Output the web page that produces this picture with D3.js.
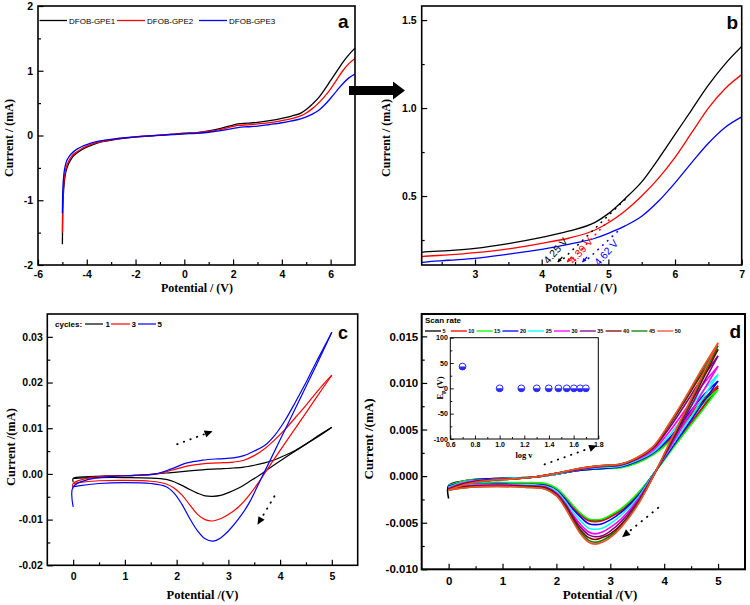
<!DOCTYPE html>
<html><head><meta charset="utf-8">
<script src="https://cdn.jsdelivr.net/npm/d3@7"></script>
<style>body{margin:0;background:#fff}svg{display:block}</style>
</head><body>
<svg id="chart" width="750" height="605"></svg>
<script>
// ---------- Panel a / b : LSV ----------
const lsvPotential = [-5, -4.99, -4.97, -4.94, -4.9, -4.85, -4.75, -4.6, -4.4, -4.2, -4, -3.6, -3.2, -2.8, -2.4, -2, -1.5, -1, -0.5, 0, 0.5, 1, 1.5, 2, 2.2, 2.6, 3, 3.5, 4, 4.4, 4.8, 5, 5.25, 5.5, 5.75, 6, 6.25, 6.5, 6.75, 7];
const lsvGPE1 = [-1.68, -1.3, -1.0, -0.8, -0.65, -0.55, -0.44, -0.34, -0.27, -0.22, -0.18, -0.12, -0.085, -0.06, -0.04, -0.025, -0.01, 0.005, 0.02, 0.035, 0.045, 0.07, 0.11, 0.16, 0.18, 0.19, 0.203, 0.23, 0.265, 0.3, 0.35, 0.40, 0.485, 0.58, 0.71, 0.85, 0.99, 1.13, 1.25, 1.35];
const lsvGPE2 = [-1.5, -1.15, -0.9, -0.72, -0.6, -0.5, -0.4, -0.31, -0.25, -0.2, -0.165, -0.11, -0.078, -0.055, -0.037, -0.022, -0.008, 0.005, 0.018, 0.03, 0.04, 0.062, 0.095, 0.14, 0.155, 0.165, 0.178, 0.2, 0.231, 0.26, 0.307, 0.348, 0.415, 0.50, 0.60, 0.72, 0.86, 1.0, 1.11, 1.19];
const lsvGPE3 = [-1.2, -0.95, -0.75, -0.6, -0.5, -0.42, -0.34, -0.27, -0.21, -0.17, -0.14, -0.095, -0.068, -0.048, -0.033, -0.02, -0.008, 0.003, 0.013, 0.025, 0.032, 0.05, 0.075, 0.11, 0.123, 0.135, 0.146, 0.17, 0.197, 0.225, 0.26, 0.288, 0.33, 0.385, 0.47, 0.575, 0.69, 0.80, 0.89, 0.95];
const lsvNames = ["DFOB-GPE1", "DFOB-GPE2", "DFOB-GPE3"];
const onsetValues = [4.25, 4.39, 4.62];

// ---------- Panel c : CV cycles ----------
const cycleFwdX = [0, 0, 0.3, 0.7, 1.2, 1.6, 1.9, 2.2, 2.5, 2.8, 3.1, 3.3, 3.5, 3.7, 3.9, 4.1, 4.3, 4.5, 4.7, 4.9, 5];
const cycleRevX = [5, 4.7, 4.4, 4.1, 3.8, 3.6, 3.4, 3.2, 3.0, 2.85, 2.7, 2.55, 2.4, 2.25, 2.1, 1.95, 1.8, 1.5, 1.0, 0.5, 0.1, 0];
const cycle1Fwd = [-0.0018, -0.0010, -0.0006, -0.0004, -0.0003, 0.0000, 0.0003, 0.0006, 0.0009, 0.0011, 0.0013, 0.0015, 0.0019, 0.0024, 0.0031, 0.0041, 0.0052, 0.0065, 0.0079, 0.0094, 0.0102];
const cycle1Rev = [0.0102, 0.0081, 0.0058, 0.0036, 0.0013, -0.0003, -0.0017, -0.0031, -0.0041, -0.0047, -0.0049, -0.0048, -0.0042, -0.0034, -0.0025, -0.0017, -0.0012, -0.0009, -0.0008, -0.0008, -0.0009, -0.0010];
const cycle3Fwd = [-0.0032, -0.0021, -0.0009, -0.0005, -0.0003, 0.0000, 0.0008, 0.0017, 0.0022, 0.0024, 0.0026, 0.0030, 0.0040, 0.0055, 0.0075, 0.0098, 0.0124, 0.0150, 0.0178, 0.0204, 0.0216];
const cycle3Rev = [0.0216, 0.0167, 0.0117, 0.0068, 0.0018, -0.0016, -0.0047, -0.0072, -0.0089, -0.0098, -0.0103, -0.0100, -0.0088, -0.0067, -0.0046, -0.0031, -0.0022, -0.0016, -0.0014, -0.0015, -0.0019, -0.0021];
const cycle5Fwd = [-0.0072, -0.0028, -0.0012, -0.0006, -0.0003, 0.0000, 0.0011, 0.0024, 0.0030, 0.0033, 0.0035, 0.0040, 0.0050, 0.0062, 0.0085, 0.0118, 0.0158, 0.0200, 0.0245, 0.0288, 0.0310];
const cycle5Rev = [0.0310, 0.0238, 0.0168, 0.0098, 0.0028, -0.0018, -0.0064, -0.0098, -0.0125, -0.0140, -0.0147, -0.0142, -0.0124, -0.0097, -0.0066, -0.0042, -0.0028, -0.0021, -0.0019, -0.0021, -0.0026, -0.0028];
const cycleLabels = ["1", "3", "5"];

// ---------- Panel d : scan rates ----------
const rateFwdX = [0, 0, 0.3, 0.7, 1.2, 1.6, 2.0, 2.4, 2.8, 3.2, 3.5, 3.8, 4.1, 4.4, 4.7, 5];
const rateRevX = [5, 4.7, 4.4, 4.1, 3.8, 3.5, 3.2, 3.0, 2.85, 2.72, 2.6, 2.45, 2.3, 2.15, 2.0, 1.8, 1.4, 0.9, 0.4, 0];
const scanRates = [5, 10, 15, 20, 25, 30, 35, 40, 45, 50];
const rate5Fwd  = [-0.0024, -0.0010, -0.0005, -0.0003, -0.0002, -0.0001, 0.0002, 0.0006, 0.0008, 0.0010, 0.0015, 0.0024, 0.0038, 0.0059, 0.0079, 0.0095];
const rate10Fwd = [-0.0011, -0.0011, -0.0005, -0.0003, -0.0002, -0.0001, 0.0002, 0.0006, 0.0008, 0.0010, 0.0015, 0.0025, 0.0039, 0.0060, 0.0081, 0.0097];
const rate15Fwd = [-0.0010, -0.0010, -0.0005, -0.0003, -0.0002, -0.0001, 0.0002, 0.0006, 0.0008, 0.0009, 0.0014, 0.0023, 0.0037, 0.0057, 0.0077, 0.0093];
const rate20Fwd = [-0.0011, -0.0011, -0.0006, -0.0003, -0.0002, -0.0001, 0.0002, 0.0006, 0.0008, 0.0010, 0.0016, 0.0025, 0.0041, 0.0063, 0.0085, 0.0102];
const rate25Fwd = [-0.0012, -0.0012, -0.0006, -0.0004, -0.0002, -0.0001, 0.0002, 0.0007, 0.0009, 0.0011, 0.0017, 0.0026, 0.0044, 0.0067, 0.0090, 0.0109];
const rate30Fwd = [-0.0013, -0.0013, -0.0007, -0.0004, -0.0003, -0.0001, 0.0003, 0.0007, 0.0010, 0.0012, 0.0018, 0.0028, 0.0048, 0.0072, 0.0097, 0.0118];
const rate35Fwd = [-0.0014, -0.0014, -0.0008, -0.0004, -0.0003, -0.0001, 0.0003, 0.0007, 0.0010, 0.0012, 0.0019, 0.0030, 0.0052, 0.0078, 0.0105, 0.0129];
const rate40Fwd = [-0.0014, -0.0014, -0.0008, -0.0005, -0.0003, -0.0001, 0.0003, 0.0008, 0.0011, 0.0013, 0.0019, 0.0031, 0.0055, 0.0082, 0.0110, 0.0136];
const rate45Fwd = [-0.0015, -0.0015, -0.0009, -0.0005, -0.0003, -0.0001, 0.0003, 0.0008, 0.0011, 0.0013, 0.0020, 0.0032, 0.0056, 0.0084, 0.0113, 0.0140];
const rate50Fwd = [-0.0015, -0.0015, -0.0009, -0.0005, -0.0003, -0.0001, 0.0003, 0.0008, 0.0011, 0.0013, 0.0020, 0.0032, 0.0057, 0.0085, 0.0115, 0.0143];
const rate5Rev  = [0.0095, 0.0072, 0.0049, 0.0026, 0.0002, -0.0020, -0.0036, -0.0043, -0.0047, -0.0048, -0.0047, -0.0041, -0.0032, -0.0022, -0.0014, -0.0009, -0.0008, -0.0007, -0.0008, -0.0010];
const rate10Rev = [0.0097, 0.0073, 0.0050, 0.0026, 0.0002, -0.0021, -0.0037, -0.0044, -0.0048, -0.0049, -0.0048, -0.0042, -0.0033, -0.0022, -0.0014, -0.0009, -0.0008, -0.0008, -0.0008, -0.0011];
const rate15Rev = [0.0093, 0.0070, 0.0048, 0.0025, 0.0002, -0.0019, -0.0035, -0.0042, -0.0046, -0.0047, -0.0046, -0.0040, -0.0031, -0.0021, -0.0013, -0.0008, -0.0007, -0.0007, -0.0007, -0.0010];
const rate20Rev = [0.0102, 0.0077, 0.0052, 0.0027, 0.0002, -0.0022, -0.0039, -0.0047, -0.0051, -0.0052, -0.0051, -0.0044, -0.0035, -0.0024, -0.0015, -0.0010, -0.0009, -0.0008, -0.0009, -0.0011];
const rate25Rev = [0.0109, 0.0082, 0.0055, 0.0029, 0.0002, -0.0024, -0.0042, -0.0051, -0.0056, -0.0057, -0.0056, -0.0048, -0.0038, -0.0026, -0.0016, -0.0011, -0.0009, -0.0009, -0.0009, -0.0012];
const rate30Rev = [0.0118, 0.0089, 0.0059, 0.0030, 0.0001, -0.0026, -0.0046, -0.0055, -0.0060, -0.0062, -0.0060, -0.0052, -0.0041, -0.0028, -0.0018, -0.0012, -0.0010, -0.0009, -0.0010, -0.0013];
const rate35Rev = [0.0129, 0.0097, 0.0064, 0.0032, 0.0001, -0.0028, -0.0049, -0.0059, -0.0064, -0.0065, -0.0063, -0.0055, -0.0043, -0.0029, -0.0019, -0.0012, -0.0011, -0.0010, -0.0011, -0.0014];
const rate40Rev = [0.0136, 0.0102, 0.0068, 0.0034, 0.0000, -0.0030, -0.0052, -0.0062, -0.0066, -0.0068, -0.0066, -0.0058, -0.0045, -0.0031, -0.0020, -0.0013, -0.0011, -0.0010, -0.0011, -0.0014];
const rate45Rev = [0.0140, 0.0105, 0.0070, 0.0035, 0.0000, -0.0031, -0.0054, -0.0064, -0.0069, -0.0071, -0.0069, -0.0060, -0.0047, -0.0032, -0.0021, -0.0014, -0.0012, -0.0011, -0.0012, -0.0015];
const rate50Rev = [0.0143, 0.0107, 0.0071, 0.0036, 0.0000, -0.0032, -0.0055, -0.0066, -0.0071, -0.0073, -0.0071, -0.0062, -0.0048, -0.0033, -0.0021, -0.0014, -0.0012, -0.0011, -0.0012, -0.0015];
// inset
const insetLogV = [0.699, 1.0, 1.176, 1.301, 1.398, 1.477, 1.544, 1.602, 1.653, 1.699];
const insetEp = [43, 0, 0, 0, 0, 0, 0, 0, 0, 0];

// ---------- drawing ----------
const SANS = "'Liberation Sans', Arial, sans-serif";
const SERIF = "'Liberation Serif', 'Times New Roman', serif";
const fixMinus = s => String(s).replace(/\u2212/g, '-');
const svg = d3.select('#chart');
svg.append('rect').attr('width', 750).attr('height', 605).attr('fill', '#fff');
const defs = svg.append('defs');
defs.append('marker').attr('id', 'ah').attr('viewBox', '0 0 10 10').attr('refX', 9).attr('refY', 5)
  .attr('markerWidth', 10).attr('markerHeight', 8).attr('markerUnits', 'userSpaceOnUse').attr('orient', 'auto')
  .append('path').attr('d', 'M0,0.5 L10,5 L0,9.5 Z').attr('fill', '#000');
['#000', '#f00', '#00f'].forEach((c, i) => {
  defs.append('marker').attr('id', 'sm' + i).attr('viewBox', '0 0 10 10').attr('refX', 9).attr('refY', 5)
    .attr('markerWidth', 5).attr('markerHeight', 4).attr('markerUnits', 'userSpaceOnUse').attr('orient', 'auto')
    .append('path').attr('d', 'M0,0 L10,5 L0,10 Z').attr('fill', c);
});

let clipN = 0;
function styleAxis(sel, fs) {
  sel.select('.domain').remove();
  sel.selectAll('line').attr('stroke', '#000').attr('stroke-width', 1.2);
  sel.selectAll('text').attr('font-family', SANS).attr('font-weight', 'bold').attr('font-size', fs).attr('fill', '#000');
}
function makePanel(o) {
  const g = svg.append('g');
  const x = d3.scaleLinear().domain(o.xd).range([o.l, o.r]);
  const y = d3.scaleLinear().domain(o.yd).range([o.b, o.t]);
  const id = 'clip' + (clipN++);
  defs.append('clipPath').attr('id', id).append('rect')
    .attr('x', o.l).attr('y', o.t).attr('width', o.r - o.l).attr('height', o.b - o.t);
  const plot = g.append('g').attr('clip-path', `url(#${id})`);
  const ax = g.append('g');
  ax.append('g').attr('transform', `translate(0,${o.b})`)
    .call(d3.axisBottom(x).tickValues(o.xMinor).tickSize(-3).tickFormat(''))
    .call(s => styleAxis(s, o.fs));
  ax.append('g').attr('transform', `translate(0,${o.b})`)
    .call(d3.axisBottom(x).tickValues(o.xMajor).tickSize(-5.5).tickPadding(o.xpad).tickFormat(d => fixMinus(o.xf(d))))
    .call(s => styleAxis(s, o.fs));
  ax.append('g').attr('transform', `translate(${o.l},0)`)
    .call(d3.axisLeft(y).tickValues(o.yMinor).tickSize(-3).tickFormat(''))
    .call(s => styleAxis(s, o.fs));
  ax.append('g').attr('transform', `translate(${o.l},0)`)
    .call(d3.axisLeft(y).tickValues(o.yMajor).tickSize(-5.5).tickPadding(o.ypad).tickFormat(d => fixMinus(o.yf(d))))
    .call(s => styleAxis(s, o.fs));
  g.append('rect').attr('x', o.l).attr('y', o.t).attr('width', o.r - o.l).attr('height', o.b - o.t)
    .attr('fill', 'none').attr('stroke', '#000').attr('stroke-width', o.fw || 1.6);
  g.append('text').attr('x', o.xtx).attr('y', o.xty).attr('text-anchor', 'middle')
    .attr('font-family', SERIF).attr('font-weight', 'bold').attr('font-size', o.tfs).text(o.xt);
  g.append('text').attr('transform', `translate(${o.ytx},${o.yty}) rotate(-90)`).attr('text-anchor', 'middle')
    .attr('font-family', SERIF).attr('font-weight', 'bold').attr('font-size', o.tfs).text(o.yt);
  g.append('text').attr('x', o.lx).attr('y', o.ly).attr('font-family', SANS).attr('font-weight', 'bold')
    .attr('font-size', o.lfs).text(o.letter);
  return { g, plot, x, y };
}
const fmtInt = d => String(d);

// Panel a
const A = makePanel({ l: 38, r: 355, t: 6, b: 265, xd: [-6, 7], yd: [-2, 2],
  xMajor: [-6, -4, -2, 0, 2, 4, 6], xMinor: [-5, -3, -1, 1, 3, 5],
  yMajor: [-2, -1, 0, 1, 2], yMinor: [-1.5, -0.5, 0.5, 1.5],
  xf: fmtInt, yf: fmtInt, fs: 10.5, xpad: 6, ypad: 5,
  xt: 'Potential / (V)', xtx: 197, xty: 291.5, yt: 'Current / (mA)', ytx: 13, yty: 138, tfs: 12,
  letter: 'a', lx: 338, ly: 28, lfs: 19 });
// Panel b
const B = makePanel({ l: 421.7, r: 741.7, t: 6, b: 265, xd: [2.2, 7], yd: [0.108, 1.58],
  xMajor: [3, 4, 5, 6, 7], xMinor: [2.5, 3.5, 4.5, 5.5, 6.5],
  yMajor: [0.5, 1.0, 1.5], yMinor: [0.25, 0.75, 1.25],
  xf: fmtInt, yf: d3.format('.1f'), fs: 10.5, xpad: 6, ypad: 5,
  xt: 'Potential / (V)', xtx: 581, xty: 291.5, yt: 'Current / (mA)', ytx: 390, yty: 138, tfs: 12,
  letter: 'b', lx: 726.5, ly: 29, lfs: 19 });
// Panel c
const C = makePanel({ l: 47.3, r: 357.7, t: 314, b: 565.3, xd: [-0.5, 5.5], yd: [-0.02, 0.035],
  xMajor: [0, 1, 2, 3, 4, 5], xMinor: [0.5, 1.5, 2.5, 3.5, 4.5],
  yMajor: [-0.02, -0.01, 0, 0.01, 0.02, 0.03], yMinor: [-0.015, -0.005, 0.005, 0.015, 0.025],
  xf: fmtInt, yf: d3.format('.2f'), fs: 10.5, xpad: 7, ypad: 4.5,
  xt: 'Potential /(V)', xtx: 202.5, xty: 599, yt: 'Current /(mA)', ytx: 14.5, yty: 447, tfs: 12.5,
  letter: 'c', lx: 338, ly: 339, lfs: 18 });
// Panel d
const D = makePanel({ l: 421.7, r: 745, t: 314, b: 569.3, xd: [-0.5, 5.5], yd: [-0.01, 0.0174],
  xMajor: [0, 1, 2, 3, 4, 5], xMinor: [0.5, 1.5, 2.5, 3.5, 4.5],
  yMajor: [-0.01, -0.005, 0, 0.005, 0.01, 0.015], yMinor: [-0.0075, -0.0025, 0.0025, 0.0075, 0.0125],
  xf: fmtInt, yf: d3.format('.3f'), fs: 11.5, xpad: 8, ypad: 3.5, fw: 2,
  xt: 'Potential /(V)', xtx: 600, xty: 599, yt: 'Current /(mA)', ytx: 373, yty: 439, tfs: 13,
  letter: 'd', lx: 729.5, ly: 338, lfs: 19 });

const lsvColors = ['#000000', '#ff0000', '#0000ff'];
const lsvSeries = [lsvGPE1, lsvGPE2, lsvGPE3];
function drawLsv(P, xmin) {
  const line = d3.line().x(d => P.x(d[0])).y(d => P.y(d[1])).curve(d3.curveMonotoneX);
  lsvSeries.forEach((s, i) => {
    const pts = lsvPotential.map((v, k) => [v, s[k]]).filter(d => d[0] >= xmin);
    P.plot.append('path').attr('d', line(pts)).attr('fill', 'none')
      .attr('stroke', lsvColors[i]).attr('stroke-width', 1.3);
  });
}
drawLsv(A, -99);
drawLsv(B, 2.0);

// legend a
const legA = A.g.append('g');
const legAX = [[39.5, 67, 69], [117, 145, 147], [199, 227, 229]];
lsvNames.forEach((n, i) => {
  legA.append('line').attr('x1', legAX[i][0]).attr('x2', legAX[i][1]).attr('y1', 20.5).attr('y2', 20.5)
    .attr('stroke', lsvColors[i]).attr('stroke-width', 1.3);
  legA.append('text').attr('x', legAX[i][2]).attr('y', 23.5).attr('font-family', SANS)
    .attr('font-size', 8).text(n);
});

// big arrow a -> b
svg.append('path').attr('d', 'M349,86 L393,86 L393,81.5 L405,90.5 L393,99.5 L393,95 L349,95 Z').attr('fill', '#000');

// panel b annotations: tangent dotted lines and onset labels
const tanEnds = [[5.25, 0.48], [5.05, 0.38], [5.2, 0.32]];
const labelDx = [-10, 6, 16];
onsetValues.forEach((v, i) => {
  B.g.append('line').attr('x1', B.x(v + 0.08)).attr('y1', B.y(0.145)).attr('x2', B.x(tanEnds[i][0])).attr('y2', B.y(tanEnds[i][1]))
    .attr('stroke', lsvColors[i]).attr('stroke-width', 1.6).attr('stroke-dasharray', '0.5,6').attr('stroke-linecap', 'round');
  const ax0 = B.x(v);
  B.g.append('text').attr('transform', `translate(${ax0 + labelDx[i]},${i === 2 ? 266.5 : 264.5}) rotate(-49)`)
    .attr('font-family', SANS).attr('font-size', 10.5).attr('fill', lsvColors[i]).text(v.toFixed(2) + ' V');
  B.g.append('line').attr('x1', ax0 + 4).attr('y1', 257).attr('x2', ax0 - 0.5).attr('y2', 262)
    .attr('stroke', lsvColors[i]).attr('stroke-width', 1.2).attr('marker-end', `url(#sm${i})`);
});

// panel c curves
const cvLine = (P) => d3.line().x(d => P.x(d[0])).y(d => P.y(d[1])).curve(d3.curveCatmullRom.alpha(0.5));
const cycleSeries = [[cycle1Fwd, cycle1Rev], [cycle3Fwd, cycle3Rev], [cycle5Fwd, cycle5Rev]];
const lc = cvLine(C);
cycleSeries.forEach((s, i) => {
  [[cycleFwdX, s[0]], [cycleRevX, s[1]]].forEach(([xs, ys]) => {
    C.plot.append('path').attr('d', lc(xs.map((v, k) => [v, ys[k]]))).attr('fill', 'none')
      .attr('stroke', lsvColors[i]).attr('stroke-width', 1.2);
  });
});
// legend c
const legC = C.g.append('g');
legC.append('text').attr('x', 55).attr('y', 327).attr('font-family', SANS).attr('font-weight', 'bold').attr('font-size', 8).text('cycles:');
const legCX = [[85, 103, 105.5], [111, 130, 131.5], [138, 156, 157.5]];
cycleLabels.forEach((n, i) => {
  legC.append('line').attr('x1', legCX[i][0]).attr('x2', legCX[i][1]).attr('y1', 324).attr('y2', 324)
    .attr('stroke', lsvColors[i]).attr('stroke-width', 1.2);
  legC.append('text').attr('x', legCX[i][2]).attr('y', 327).attr('font-family', SANS).attr('font-weight', 'bold')
    .attr('font-size', 8).text(n);
});
function dottedArrow(P, x1, y1, x2, y2) {
  P.g.append('line').attr('x1', P.x(x1)).attr('y1', P.y(y1)).attr('x2', P.x(x2)).attr('y2', P.y(y2))
    .attr('stroke', '#000').attr('stroke-width', 1.8).attr('stroke-dasharray', '0.5,6.5').attr('stroke-linecap', 'round')
    .attr('marker-end', 'url(#ah)');
}
dottedArrow(C, 2.01, 0.0065, 2.68, 0.0093);
dottedArrow(C, 3.89, -0.0049, 3.57, -0.0110);

// panel d curves
const rateColors = ['#000000', '#ff0000', '#00ff00', '#0000ff', '#00ffff', '#ff00ff', '#800080', '#800000', '#008000', '#ff4a26'];
const rateSeries = [[rate5Fwd, rate5Rev], [rate10Fwd, rate10Rev], [rate15Fwd, rate15Rev], [rate20Fwd, rate20Rev], [rate25Fwd, rate25Rev],
  [rate30Fwd, rate30Rev], [rate35Fwd, rate35Rev], [rate40Fwd, rate40Rev], [rate45Fwd, rate45Rev], [rate50Fwd, rate50Rev]];
const ld = cvLine(D);
rateSeries.forEach((s, i) => {
  [[rateFwdX, s[0]], [rateRevX, s[1]]].forEach(([xs, ys]) => {
    D.plot.append('path').attr('d', ld(xs.map((v, k) => [v, ys[k]]))).attr('fill', 'none')
      .attr('stroke', rateColors[i]).attr('stroke-width', 1.6);
  });
});
dottedArrow(D, 1.78, 0.00126, 2.74, 0.00325);
dottedArrow(D, 3.89, -0.0034, 3.23, -0.0065);
// legend d
const legD = D.g.append('g');
legD.append('text').attr('x', 425).attr('y', 323).attr('font-family', SANS).attr('font-weight', 'bold').attr('font-size', 8).text('Scan rate');
scanRates.forEach((r, i) => {
  const x0 = 425 + i * 25.8;
  legD.append('line').attr('x1', x0).attr('x2', x0 + 16).attr('y1', 331).attr('y2', 331)
    .attr('stroke', rateColors[i]).attr('stroke-width', 1.3);
  legD.append('text').attr('x', x0 + 17.5).attr('y', 333).attr('font-family', SANS).attr('font-weight', 'bold')
    .attr('font-size', 5.5).text(r);
});
// inset
const I = { l: 450.3, r: 598.3, t: 337.7, b: 439 };
const ix = d3.scaleLinear().domain([0.6, 1.8]).range([I.l, I.r]);
const iy = d3.scaleLinear().domain([-100, 100]).range([I.b, I.t]);
const ig = D.g.append('g');
ig.append('rect').attr('x', I.l).attr('y', I.t).attr('width', I.r - I.l).attr('height', I.b - I.t).attr('fill', '#fff');
function styleIn(sel) {
  sel.select('.domain').remove();
  sel.selectAll('line').attr('stroke', '#000').attr('stroke-width', 0.9);
  sel.selectAll('text').attr('font-family', SANS).attr('font-weight', 'bold').attr('font-size', 7).attr('fill', '#000');
}
ig.append('g').attr('transform', `translate(0,${I.b})`).call(d3.axisBottom(ix).tickValues([0.7, 0.9, 1.1, 1.3, 1.5, 1.7]).tickSize(-2).tickFormat('')).call(styleIn);
ig.append('g').attr('transform', `translate(0,${I.b})`).call(d3.axisBottom(ix).tickValues([0.6, 0.8, 1.0, 1.2, 1.4, 1.6, 1.8]).tickSize(-3.5).tickPadding(3).tickFormat(d3.format('.1f'))).call(styleIn);
ig.append('g').attr('transform', `translate(${I.l},0)`).call(d3.axisLeft(iy).tickValues([-75, -25, 25, 75]).tickSize(-2).tickFormat('')).call(styleIn);
ig.append('g').attr('transform', `translate(${I.l},0)`).call(d3.axisLeft(iy).tickValues([-100, -50, 0, 50, 100]).tickSize(-3.5).tickPadding(2.5).tickFormat(d => fixMinus(d))).call(styleIn);
ig.append('rect').attr('x', I.l).attr('y', I.t).attr('width', I.r - I.l).attr('height', I.b - I.t).attr('fill', 'none').attr('stroke', '#000').attr('stroke-width', 1);
ig.append('text').attr('x', 524).attr('y', 457.5).attr('text-anchor', 'middle').attr('font-family', SERIF).attr('font-weight', 'bold').attr('font-size', 8.5).text('log v');
const epT = ig.append('text').attr('transform', `translate(443,388) rotate(-90)`).attr('text-anchor', 'middle')
  .attr('font-family', SERIF).attr('font-weight', 'bold').attr('font-size', 8.5);
epT.append('tspan').text('E');
epT.append('tspan').attr('font-size', 6).attr('dy', 2).text('p');
epT.append('tspan').attr('dy', -2).text(' (V)');
insetLogV.forEach((v, k) => {
  const cx = ix(v), cy = iy(insetEp[k]), r = 3.4;
  ig.append('circle').attr('cx', cx).attr('cy', cy).attr('r', r).attr('fill', '#fff').attr('stroke', '#2a2aff').attr('stroke-width', 1);
  ig.append('path').attr('d', `M${cx - r},${cy} A${r},${r} 0 0 0 ${cx + r},${cy} Z`).attr('fill', '#2a2aff');
});
</script>
</body></html>
